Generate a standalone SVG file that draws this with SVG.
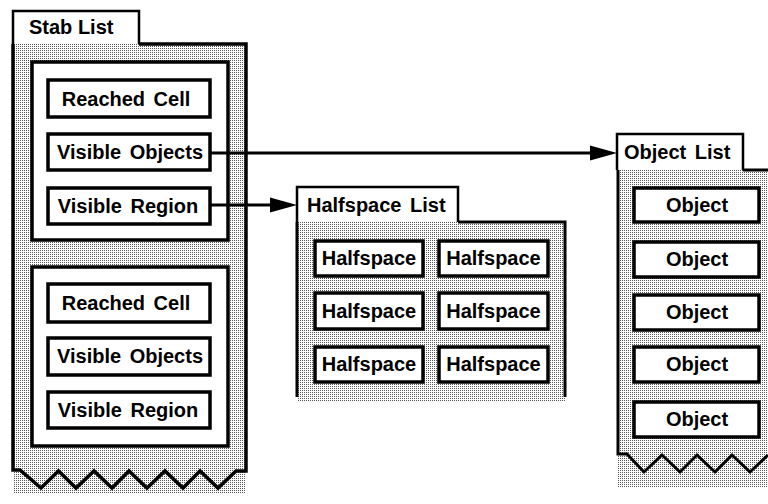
<svg xmlns="http://www.w3.org/2000/svg" width="768" height="504" viewBox="0 0 768 504">
  <defs>
    <pattern id="dots" patternUnits="userSpaceOnUse" x="0" y="0" width="2" height="2">
      <rect width="2" height="2" fill="#ffffff"/>
      <rect width="1" height="1" fill="#555555"/>
    </pattern>
    <marker id="arrow" markerUnits="userSpaceOnUse" markerWidth="28" markerHeight="16" refX="0" refY="8" orient="auto" overflow="visible">
      <path d="M0,0.5 L27,8 L0,15.5 Z" fill="#000"/>
    </marker>
  </defs>
  <style>
    text { font-family: "Liberation Sans", Arial, Helvetica, sans-serif; font-weight: bold; font-size: 20px; fill: #000; }
    .mid { text-anchor: middle; }
    .ws { word-spacing: 3px; }
    .tab { fill: #fff; stroke: #000; stroke-width: 2.5; }
    .fill { fill: url(#dots); stroke: none; }
    .edge { fill: none; stroke: #000; stroke-width: 3.5; stroke-linejoin: miter; }
    .edge2 { fill: none; stroke: #000; stroke-width: 3; }
    .inner { fill: #fff; stroke: #000; stroke-width: 3.5; }
    .item { fill: #fff; stroke: #000; stroke-width: 3.5; }
    .conn { fill: none; stroke: #000; stroke-width: 3; marker-end: url(#arrow); }
  </style>
  <rect width="768" height="504" fill="#fff"/>

  <!-- Stab List -->
  <g id="stab-list">
    <rect class="fill" x="13" y="44" width="233" height="449"/>
    <path class="tab" d="M13,44 V11 H139 V44"/>
    <path class="edge" d="M139,44 H246 V471 H236 L218,488 L200,471 L183,488 L165,471 L147,488 L129,471 L112,488 L94,471 L76,488 L58.5,471 L41,488 L20,470 H13 V44"/>
    <text x="29" y="34">Stab List</text>
    <g id="stab-entry-1">
      <rect class="inner" x="32" y="62" width="196" height="178"/>
      <g id="reached-cell-1"><rect class="item" x="48" y="80" width="162" height="37"/><text class="mid ws" x="126" y="106">Reached Cell</text></g>
      <g id="visible-objects-1"><rect class="item" x="48" y="134" width="162" height="36"/><text class="mid ws" x="130" y="159">Visible Objects</text></g>
      <g id="visible-region-1"><rect class="item" x="48" y="188" width="162" height="36"/><text class="mid ws" x="128" y="213">Visible Region</text></g>
    </g>
    <g id="stab-entry-2">
      <rect class="inner" x="32" y="267" width="196" height="179"/>
      <g id="reached-cell-2"><rect class="item" x="48" y="284" width="162" height="38"/><text class="mid ws" x="126" y="310">Reached Cell</text></g>
      <g id="visible-objects-2"><rect class="item" x="48" y="338" width="162" height="37"/><text class="mid ws" x="130" y="363">Visible Objects</text></g>
      <g id="visible-region-2"><rect class="item" x="48" y="392" width="162" height="36"/><text class="mid ws" x="128" y="417">Visible Region</text></g>
    </g>
  </g>

  <!-- Halfspace List -->
  <g id="halfspace-list">
    <rect class="fill" x="297" y="222" width="268" height="179"/>
    <path class="tab" d="M297,222 V187 H458 V222"/>
    <path class="edge2" d="M458,222 H565 V397 M297,222 V397"/>
    <text class="ws" x="307" y="212">Halfspace List</text>
    <g id="hs-1"><rect class="item" x="315" y="241" width="108" height="35"/><text class="mid" x="369" y="265">Halfspace</text></g>
    <g id="hs-2"><rect class="item" x="439" y="241" width="109" height="35"/><text class="mid" x="493.5" y="265">Halfspace</text></g>
    <g id="hs-3"><rect class="item" x="315" y="293" width="108" height="36"/><text class="mid" x="369" y="318">Halfspace</text></g>
    <g id="hs-4"><rect class="item" x="439" y="293" width="109" height="36"/><text class="mid" x="493.5" y="318">Halfspace</text></g>
    <g id="hs-5"><rect class="item" x="315" y="347" width="108" height="35"/><text class="mid" x="369" y="371">Halfspace</text></g>
    <g id="hs-6"><rect class="item" x="439" y="347" width="109" height="35"/><text class="mid" x="493.5" y="371">Halfspace</text></g>
  </g>

  <!-- Object List -->
  <g id="object-list">
    <rect class="fill" x="617" y="170" width="151" height="318"/>
    <path class="tab" d="M617,170 V134 H743 V170"/>
    <path class="edge2" d="M743,170 H770 M618,170 V454 H627 L644,472 L662,455 L680,472 L697,455 L715,472 L732,455 L750,472 L768,455"/>
    <text class="ws" x="624" y="159">Object List</text>
    <g id="obj-1"><rect class="item" x="634" y="188" width="125" height="34"/><text class="mid" x="697" y="212">Object</text></g>
    <g id="obj-2"><rect class="item" x="634" y="242" width="125" height="35"/><text class="mid" x="697" y="266">Object</text></g>
    <g id="obj-3"><rect class="item" x="634" y="295" width="125" height="35"/><text class="mid" x="697" y="319">Object</text></g>
    <g id="obj-4"><rect class="item" x="634" y="347" width="125" height="35"/><text class="mid" x="697" y="371">Object</text></g>
    <g id="obj-5"><rect class="item" x="634" y="402" width="125" height="35"/><text class="mid" x="697" y="426">Object</text></g>
  </g>

  <!-- Connectors -->
  <g id="connectors">
    <path class="conn" d="M211,153 H590"/>
    <path class="conn" d="M211,205 H270"/>
  </g>
</svg>
